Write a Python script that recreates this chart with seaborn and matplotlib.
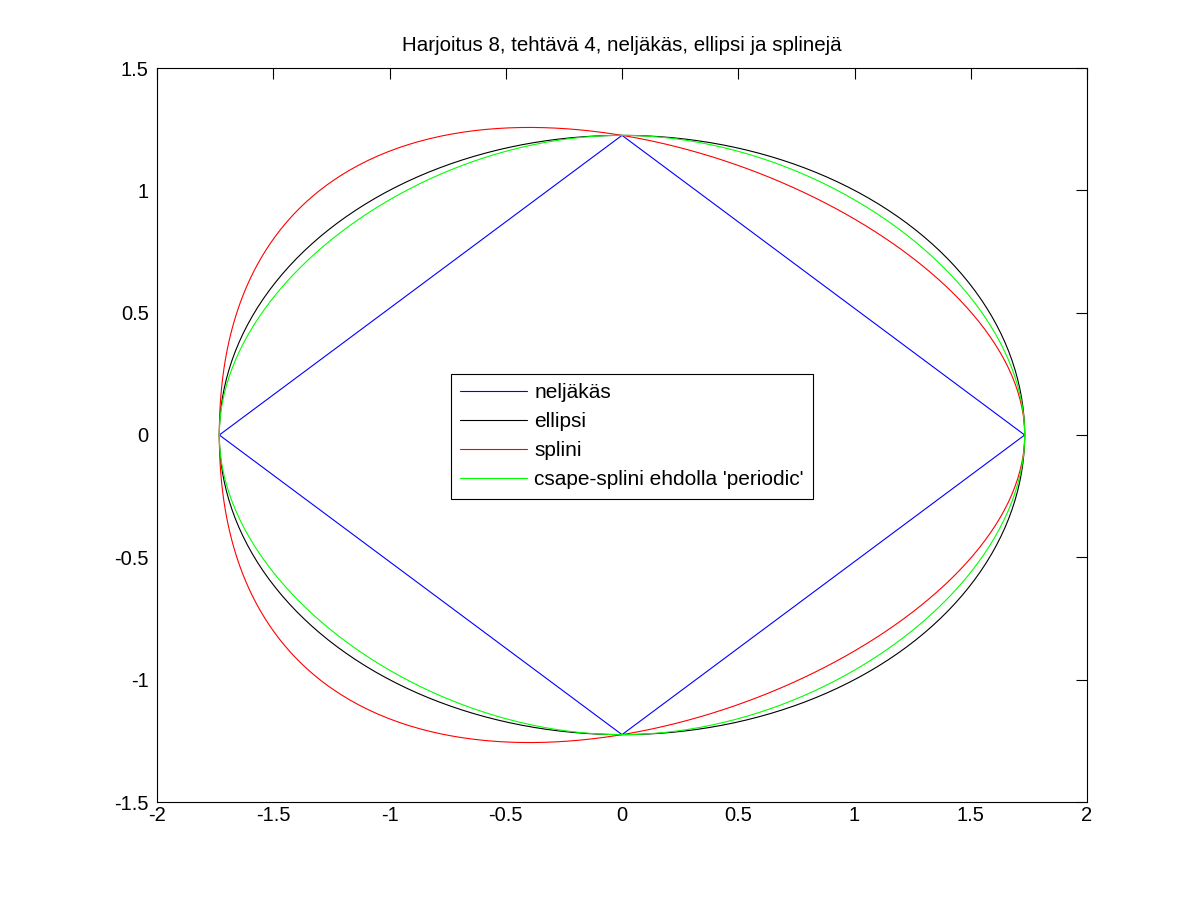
import numpy as np
import matplotlib
matplotlib.use("Agg")
import matplotlib.pyplot as plt
import seaborn as sns

# ---- data ----
vert_x = [-1.732, 0.0, 1.732, 0.0, -1.732]      # rhombus vertices (closed)
vert_y = [0.0, 1.2247, 0.0, -1.2247, 0.0]
ellipse_a = 1.732
ellipse_b = 1.2247
labels = ["neljäkäs", "ellipsi", "splini", "csape-splini ehdolla 'periodic'"]
colors = ["#0000ff", "#000000", "#ff0000", "#00ff00"]
title = "Harjoitus 8, tehtävä 4, neljäkäs, ellipsi ja splinejä"
xticks = [-2, -1.5, -1, -0.5, 0, 0.5, 1, 1.5, 2]
yticks = [-1.5, -1, -0.5, 0, 0.5, 1, 1.5]


def cubic_spline(t, v, kind):
    n = len(t) - 1
    A = np.zeros((4 * n, 4 * n))
    b = np.zeros(4 * n)
    r = 0
    for i in range(n):
        h = t[i + 1] - t[i]
        A[r, 4 * i] = 1; b[r] = v[i]; r += 1
        A[r, 4 * i:4 * i + 4] = [1, h, h ** 2, h ** 3]; b[r] = v[i + 1]; r += 1
    for i in range(n - 1):
        h = t[i + 1] - t[i]
        A[r, 4 * i:4 * i + 4] = [0, 1, 2 * h, 3 * h ** 2]; A[r, 4 * (i + 1) + 1] = -1; r += 1
        A[r, 4 * i:4 * i + 4] = [0, 0, 2, 6 * h]; A[r, 4 * (i + 1) + 2] = -2; r += 1
    if kind == "notaknot":
        for i in (0, n - 2):
            A[r, 4 * i + 3] = 1; A[r, 4 * (i + 1) + 3] = -1; r += 1
    else:
        h = t[n] - t[n - 1]
        A[r, 4 * (n - 1):4 * n] = [0, 1, 2 * h, 3 * h ** 2]; A[r, 1] = -1; r += 1
        A[r, 4 * (n - 1):4 * n] = [0, 0, 2, 6 * h]; A[r, 2] = -2; r += 1
    c = np.linalg.solve(A, b).reshape(n, 4)

    def ev(tt):
        idx = np.clip(np.searchsorted(t, tt, side="right") - 1, 0, n - 1)
        s = tt - t[idx]
        cc = c[idx]
        return cc[:, 0] + cc[:, 1] * s + cc[:, 2] * s ** 2 + cc[:, 3] * s ** 3
    return ev


tk = np.arange(len(vert_x), dtype=float)
tt = np.linspace(0, tk[-1], 401)
sx = cubic_spline(tk, np.array(vert_x), "notaknot")(tt)
sy = cubic_spline(tk, np.array(vert_y), "notaknot")(tt)
px = cubic_spline(tk, np.array(vert_x), "periodic")(tt)
py = cubic_spline(tk, np.array(vert_y), "periodic")(tt)
th = np.linspace(0, 2 * np.pi, 401)
ex = ellipse_a * np.cos(th)
ey = ellipse_b * np.sin(th)

sns.set_style("white")
plt.rcParams["font.family"] = ["Liberation Sans", "DejaVu Sans"]
plt.rcParams["text.color"] = "black"
plt.rcParams["axes.labelcolor"] = "black"
plt.rcParams["xtick.color"] = "black"
plt.rcParams["ytick.color"] = "black"

fig = plt.figure(figsize=(12.01, 9.01), dpi=100)
ax = fig.add_axes([157 / 1201, 1 - 802 / 901, (1087 - 157) / 1201, (802 - 68) / 901])

series = [(vert_x, vert_y), (ex, ey), (sx, sy), (px, py)]
for (x, y), lab, col in zip(series, labels, colors):
    sns.lineplot(x=x, y=y, sort=False, estimator=None, color=col, lw=0.8, label=lab, ax=ax)

ax.set_xlim(-2, 2)
ax.set_ylim(-1.5, 1.5)
ax.set_xticks(xticks)
ax.set_yticks(yticks)
ax.set_xticklabels([f"{v:g}" for v in xticks])
ax.set_yticklabels([f"{v:g}" for v in yticks])
ax.tick_params(direction="in", length=8, width=0.8, top=True, right=True,
               labelsize=14.5, colors="black")
ax.tick_params(axis="x", pad=3)
ax.tick_params(axis="y", pad=6)
for s in ax.spines.values():
    s.set_visible(True)
    s.set_color("black")
    s.set_linewidth(0.8)
ax.set_title(title, fontsize=14.8, pad=12, color="black")

leg = ax.legend(loc="upper left", bbox_to_anchor=(451 / 1201, 1 - 374 / 901),
                bbox_transform=fig.transFigure, borderaxespad=0, fontsize=15,
                frameon=True, fancybox=False, edgecolor="black", handlelength=3.2,
                handletextpad=0.35, labelspacing=0.48, borderpad=0.45)
leg.get_frame().set_linewidth(0.8)
leg.get_frame().set_alpha(1)
for txt in leg.get_texts():
    txt.set_color("black")

fig.savefig("out.png", dpi=100, facecolor="white")
